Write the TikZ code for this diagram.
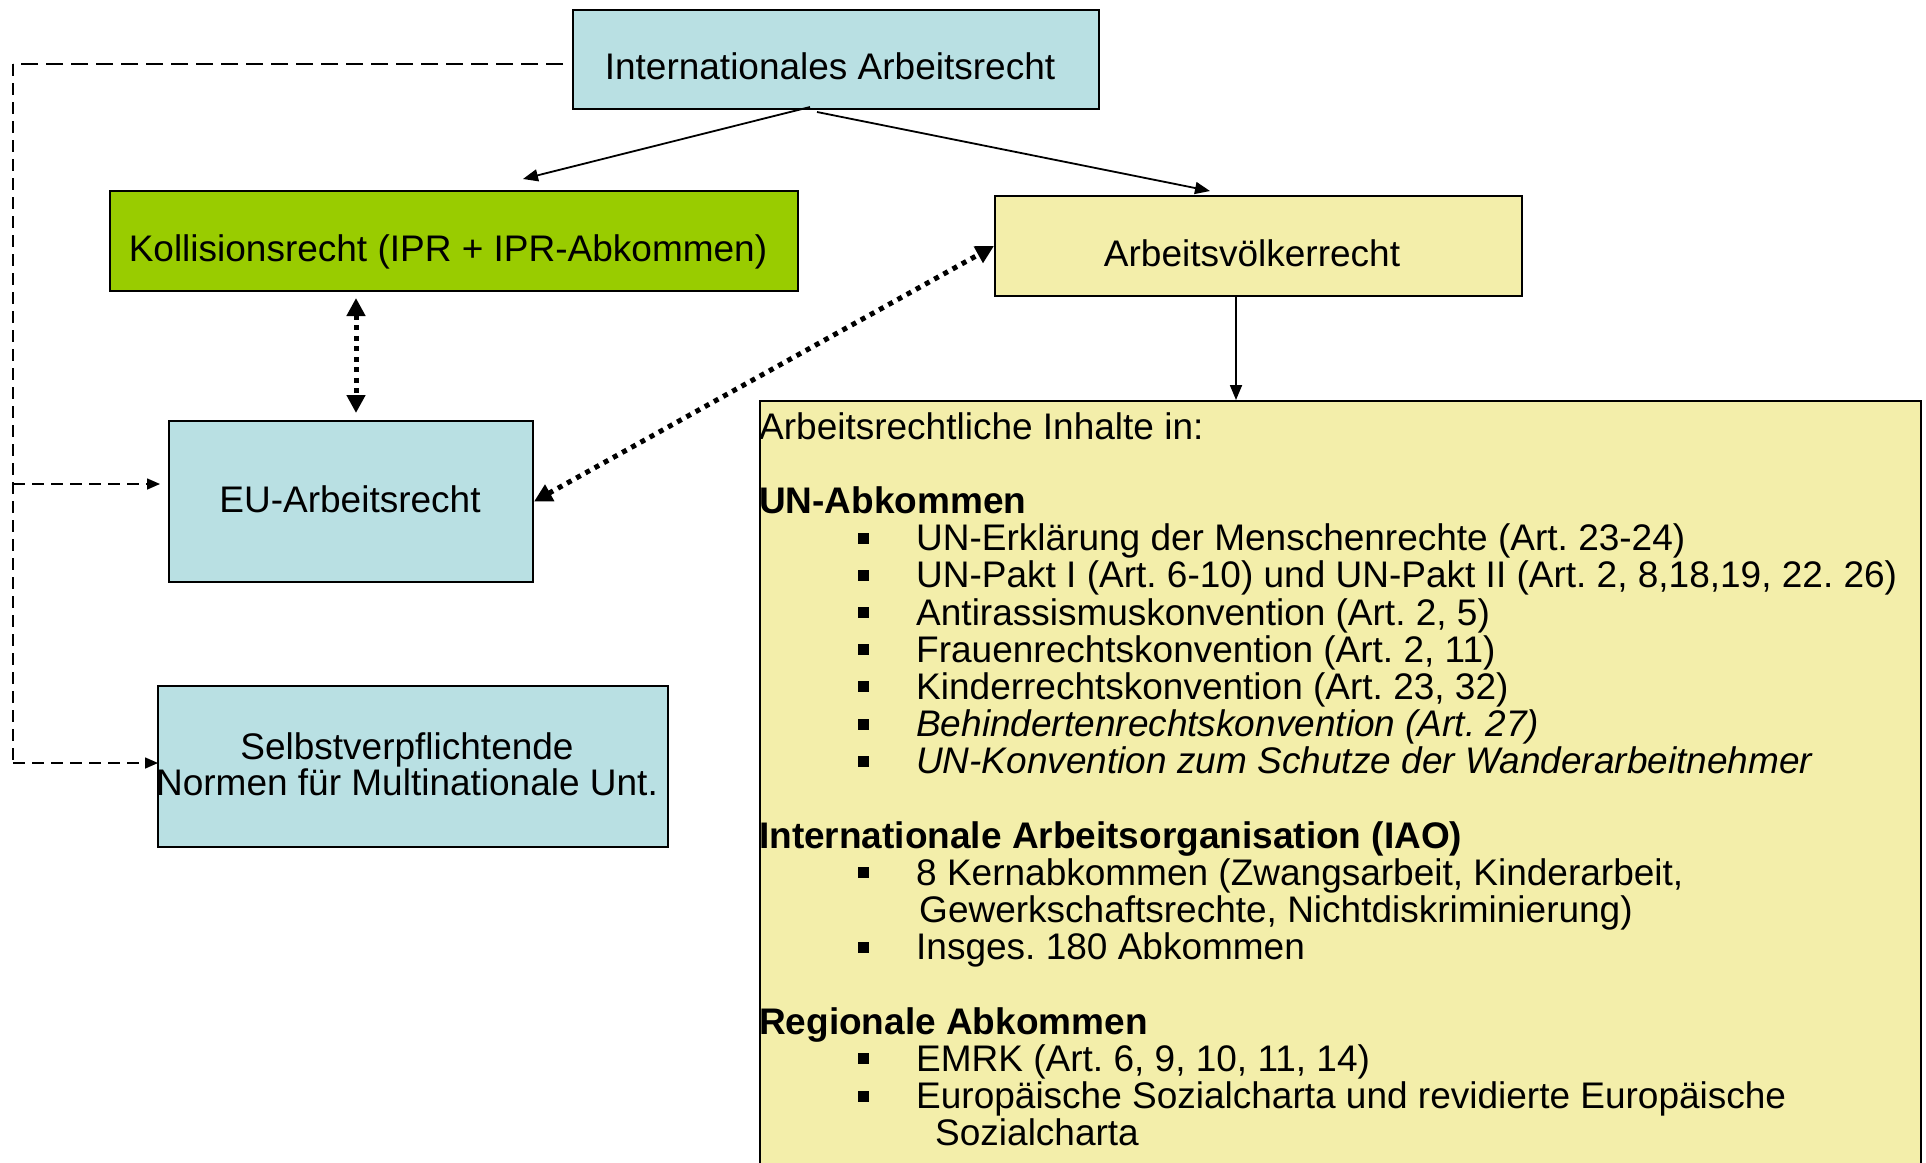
\documentclass[tikz,border=0pt]{standalone}
\usepackage{fontspec}
\setmainfont{Liberation Sans}
\usetikzlibrary{arrows.meta}
\definecolor{lblue}{RGB}{185,224,227}
\definecolor{lgreen}{RGB}{153,204,0}
\definecolor{lyellow}{RGB}{243,238,170}
\newcommand\bitem{\rule[7pt]{11pt}{11pt}\hspace*{47pt}}
\frenchspacing
\begin{document}
\frenchspacing
\begin{tikzpicture}[x=1pt,y=-1pt,
  box/.style={draw=black, line width=2pt, inner sep=0pt, anchor=north west},
  txt/.style={font=\fontsize{37}{37}\selectfont, inner sep=0pt, anchor=base},
  ltxt/.style={font=\fontsize{37}{37}\selectfont, inner sep=0pt, anchor=base west},
  arr/.style={line width=1.8pt, -{Triangle[length=15pt,width=12pt]}},
  dots/.style={line width=5pt, dash pattern=on 5pt off 5.5pt, {Triangle[length=18pt,width=18pt]}-{Triangle[length=18pt,width=18pt]}},
  dsh/.style={line width=1.6pt, dash pattern=on 12pt off 7pt},
  dshtop/.style={line width=1.8pt, dash pattern=on 17pt off 8pt},
]
\useasboundingbox (0,0) rectangle (1926,1162);
\clip (0,0) rectangle (1926,1162);
\fill[white] (0,0) rectangle (1926,1162);

% boxes
\node[box, fill=lblue, minimum width=526pt, minimum height=99pt] (IA) at (572,9) {};
\node[box, fill=lgreen, minimum width=688pt, minimum height=100pt] (K) at (109,190) {};
\node[box, fill=lyellow, minimum width=527pt, minimum height=100pt] (AV) at (994,195) {};
\node[box, fill=lblue, minimum width=364pt, minimum height=161pt] (EU) at (168,420) {};
\node[box, fill=lblue, minimum width=510pt, minimum height=161pt] (S) at (157,685) {};
\node[box, fill=lyellow, minimum width=1161pt, minimum height=790pt] (C) at (759,400) {};

% box labels
\node[txt] (IAt) at (830,79) {Internationales Arbeitsrecht};
\node[txt] (Kt) at (448,261) {Kollisionsrecht (IPR + IPR-Abkommen)};
\node[txt] (AVt) at (1252,266) {Arbeitsvölkerrecht};
\node[txt] (EUt) at (350,512) {EU-Arbeitsrecht};
\node[txt] (St1) at (407,759) {Selbstverpflichtende};
\node[txt] (St2) at (407,795) {Normen für Multinationale Unt.};

% content
\node[ltxt] (c0) at (759,439) {Arbeitsrechtliche Inhalte in:};
\node[ltxt] (c2) at (759,513.4) {\bfseries UN-Abkommen};
\node[ltxt] (c3) at (858,550.6) {\bitem UN-Erklärung der Menschenrechte (Art. 23-24)};
\node[ltxt] (c4) at (858,587.8) {\bitem UN-Pakt I (Art. 6-10) und UN-Pakt II (Art. 2, 8,18,19, 22. 26)};
\node[ltxt] (c5) at (858,625) {\bitem Antirassismuskonvention (Art. 2, 5)};
\node[ltxt] (c6) at (858,662.2) {\bitem Frauenrechtskonvention (Art. 2, 11)};
\node[ltxt] (c7) at (858,699.4) {\bitem Kinderrechtskonvention (Art. 23, 32)};
\node[ltxt] (c8) at (858,736.6) {\bitem \itshape Behindertenrechtskonvention (Art. 27)};
\node[ltxt] (c9) at (858,773.8) {\bitem \itshape UN-Konvention zum Schutze der Wanderarbeitnehmer};
\node[ltxt] (c11) at (759,848.2) {\bfseries Internationale Arbeitsorganisation (IAO)};
\node[ltxt] (c12) at (858,885.4) {\bitem 8 Kernabkommen (Zwangsarbeit, Kinderarbeit,};
\node[ltxt] (c13) at (919,922.6) {Gewerkschaftsrechte, Nichtdiskriminierung)};
\node[ltxt] (c14) at (858,959.8) {\bitem Insges. 180 Abkommen};
\node[ltxt] (c16) at (759,1034.2) {\bfseries Regionale Abkommen};
\node[ltxt] (c17) at (858,1071.4) {\bitem EMRK (Art. 6, 9, 10, 11, 14)};
\node[ltxt] (c18) at (858,1108.6) {\bitem Europäische Sozialcharta und revidierte Europäische};
\node[ltxt] (c19) at (935,1145.8) {Sozialcharta};

% connector points
\coordinate (ia1) at (810,107);
\coordinate (ktip) at (523,179);
\coordinate (ia2) at (817,112);
\coordinate (avtip) at (1210,191);
\coordinate (avb) at (1236,295);
\coordinate (ctop) at (1236,400);
\coordinate (kd) at (356,298);
\coordinate (eud) at (356,413);
\coordinate (d0) at (563,64);
\coordinate (d1) at (13,64);
\coordinate (d2) at (13,484);
\coordinate (d3) at (13,763);
\coordinate (eutip) at (160,484);
\coordinate (stip) at (158,763);

% connectors
\draw[arr] (ia1) -- (ktip);
\draw[arr] (ia2) -- (avtip);
\draw[arr] (avb) -- (ctop);
\draw[dots] (kd) -- (eud);
\draw[dots] (EU.east) -- (AV.west);
\draw[dshtop] (d0) -- (d1);
\draw[dsh] (d1) -- (d3);
\draw[dsh, -{Triangle[length=13pt,width=11pt]}] (d2) -- (eutip);
\draw[dsh, -{Triangle[length=13pt,width=11pt]}] (d3) -- (stip);
\end{tikzpicture}
\end{document}
